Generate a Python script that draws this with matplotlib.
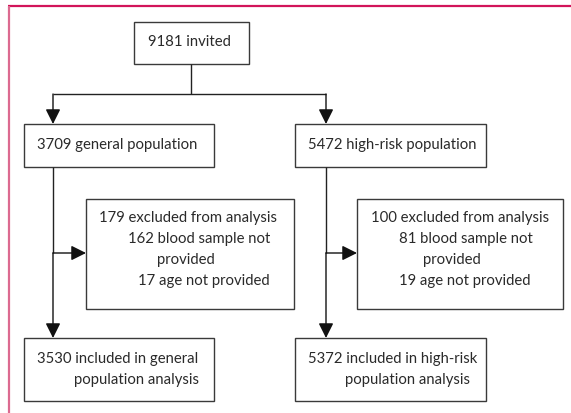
import matplotlib.pyplot as plt
from matplotlib.patches import Rectangle

# boxes: (x0, y0, x1, y1) in pixel space of the 571x413 image
box_names = ["invited", "general", "highrisk", "excl_gen", "excl_high", "incl_gen", "incl_high"]
box_coords = [
    (134, 22, 249, 64),
    (24, 124, 214, 167),
    (295, 124, 486, 167),
    (86, 199, 294, 309),
    (357, 199, 563, 309),
    (24, 338, 214, 401),
    (295, 338, 486, 401),
]

# text lines: (x_left, y_center, text)
text_lines = [
    (148, 42, "9181 invited"),
    (37, 145, "3709 general population"),
    (308, 145, "5472 high-risk population"),
    (99, 218, "179 excluded from analysis"),
    (128, 239, "162 blood sample not"),
    (157, 260, "provided"),
    (138, 281, "17 age not provided"),
    (371, 218, "100 excluded from analysis"),
    (399, 239, "81 blood sample not"),
    (423, 260, "provided"),
    (399, 281, "19 age not provided"),
    (37, 359, "3530 included in general"),
    (74, 380, "population analysis"),
    (308, 359, "5372 included in high-risk"),
    (345, 380, "population analysis"),
]

# connector lines (no arrowheads) and arrows (with heads)
lines = [
    [(191, 64), (191, 94)],
    [(53, 94), (326, 94)],
    [(53, 167), (53, 253)],
    [(326, 167), (326, 253)],
]
arrows = [
    [(53, 94), (53, 124)],
    [(326, 94), (326, 124)],
    [(53, 253), (53, 338)],
    [(326, 253), (326, 338)],
    [(53, 253), (86, 253)],
    [(326, 253), (357, 253)],
]

fig = plt.figure(figsize=(5.71, 4.13), dpi=100)
ax = fig.add_axes([0, 0, 1, 1])
ax.set_xlim(0, 571)
ax.set_ylim(413, 0)
ax.axis("off")

# frame (top and left rules)
ax.plot([8, 571], [6, 6], color="#d2145a", lw=1.6, solid_capstyle="butt")
ax.plot([8.5, 8.5], [6, 413], color="#dc6a90", lw=1.6, solid_capstyle="butt")

edge = "#3a3a3a"
for (x0, y0, x1, y1) in box_coords:
    ax.add_patch(Rectangle((x0, y0), x1 - x0, y1 - y0, fill=False, ec=edge, lw=1.0))

for seg in lines:
    (xa, ya), (xb, yb) = seg
    ax.plot([xa, xb], [ya, yb], color="#222222", lw=1.0, solid_capstyle="butt")

for seg in arrows:
    (xa, ya), (xb, yb) = seg
    ax.annotate("", xy=(xb, yb), xytext=(xa, ya),
                arrowprops=dict(arrowstyle="-|>,head_length=0.9,head_width=0.45",
                                color="#111111", lw=1.0, shrinkA=0, shrinkB=0))

for (x, y, s) in text_lines:
    ax.text(x, y, s, ha="left", va="center", fontsize=10.7, family="Lato", color="#2a2a2a")

fig.savefig("out.png", dpi=100)
